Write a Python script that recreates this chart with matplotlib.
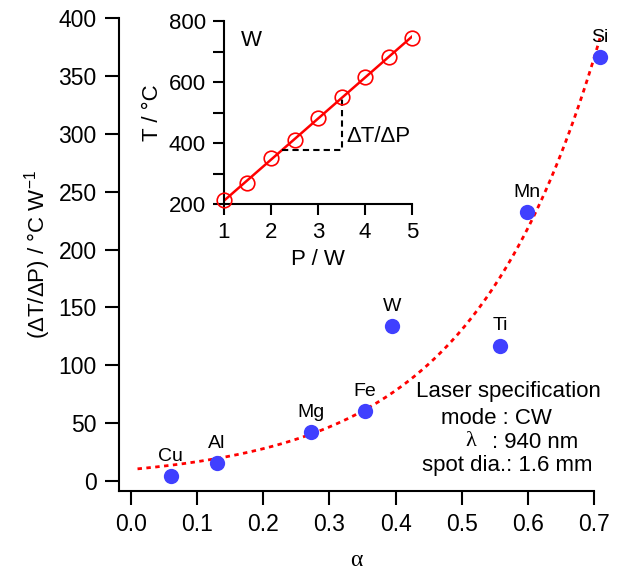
import matplotlib.pyplot as plt
import numpy as np

plt.rcParams['font.family'] = ['Liberation Sans', 'DejaVu Sans']
plt.rcParams['mathtext.fontset'] = 'custom'
plt.rcParams['mathtext.rm'] = 'Liberation Sans'
plt.rcParams['mathtext.it'] = 'Liberation Sans:italic'

# main data
elements = ['Cu', 'Al', 'Mg', 'Fe', 'W', 'Ti', 'Mn', 'Si']
alpha = [0.06, 0.13, 0.272, 0.354, 0.395, 0.558, 0.599, 0.709]
slope = [4.3, 15.5, 42, 60.5, 134, 117, 232, 366]
# exponential fit y = a*exp(b*x)
fit_a = 10.0
fit_b = 5.14

# inset data
P = [1, 1.5, 2, 2.5, 3, 3.5, 4, 4.5, 5]
T = [213, 269, 351, 410, 482, 551, 617, 682, 744]

W, H = 629, 571
fig = plt.figure(figsize=(W/100, H/100), dpi=100)

def fx(px): return px / W
def fy(py): return 1 - py / H

ax = fig.add_axes([fx(119), fy(491), fx(594) - fx(119), fy(18) - fy(491)])
ax.spines['top'].set_visible(False)
ax.spines['right'].set_visible(False)
ax.set_xlim(-0.018, 0.7)
ax.set_ylim(-8.6, 400)
ax.set_xticks(np.arange(0, 0.71, 0.1))
ax.set_xticklabels(['%.1f' % v for v in np.arange(0, 0.71, 0.1)])
ax.set_yticks(np.arange(0, 401, 50))
ax.tick_params(direction='out', length=10, width=1.5, labelsize=16.5, pad=6)
for s in ax.spines.values():
    s.set_linewidth(1.5)

xf = np.linspace(0.01, 0.709, 200)
ax.plot(xf, fit_a * np.exp(fit_b * xf), color='#ff0000', ls=(0, (1.6, 1.6)), lw=2, zorder=2,
        clip_on=False)
ax.plot(alpha, slope, 'o', color='#4040ff', ms=11, mec='none', zorder=3, clip_on=False)
for e, a, s in zip(elements, alpha, slope):
    ax.annotate(e, (a, s), xytext=(0, 8), textcoords='offset points',
                ha='center', va='bottom', fontsize=14, annotation_clip=False)

ax.set_xlabel('α', fontsize=17, labelpad=10, family='Liberation Serif')
ax.set_ylabel('(ΔT/ΔP) / °C W$^{-1}$', fontsize=16, labelpad=4)

# laser spec text
fs = 16
fig.text(fx(416), fy(392), 'Laser specification', fontsize=fs, va='center', ha='left')
fig.text(fx(441), fy(419), 'mode : CW', fontsize=fs, va='center', ha='left')
fig.text(fx(465), fy(442), 'λ', fontsize=fs, va='center', ha='left', family='Liberation Serif')
fig.text(fx(492), fy(442), ': 940 nm', fontsize=fs, va='center', ha='left')
fig.text(fx(422), fy(466), 'spot dia.: 1.6 mm', fontsize=fs, va='center', ha='left')

# inset
ins = fig.add_axes([fx(224), fy(204), fx(412) - fx(224), fy(21) - fy(204)])
ins.spines['top'].set_visible(False)
ins.spines['right'].set_visible(False)
ins.set_xlim(1, 5)
ins.set_ylim(200, 800)
ins.set_xticks([1, 2, 3, 4, 5])
ins.set_yticks([200, 400, 600, 800])
ins.set_yticks([300, 500, 700], minor=True)
ins.tick_params(which='both', direction='out', length=8, width=1.5, labelsize=16, pad=5)
for s in ins.spines.values():
    s.set_linewidth(1.5)

k, b = np.polyfit(P, T, 1)
pl = np.array([1, 5])
ins.plot(pl, k * pl + b, color='#ff0000', lw=1.8, zorder=2)
ins.plot(P, T, 'o', mfc='none', mec='#ff0000', ms=10.5, mew=1.2, zorder=3, clip_on=False)
ins.plot([2.24, 3.52, 3.52], [377, 377, k * 3.52 + b], color='black', ls=(0, (3, 2)), lw=1.5)
ins.text(3.6, 420, 'ΔT/ΔP', fontsize=16, va='center', ha='left')
ins.text(1.35, 735, 'W', fontsize=16, va='center', ha='left')
ins.set_xlabel('P / W', fontsize=16, labelpad=4)
ins.set_ylabel('T / °C', fontsize=16, labelpad=4)

fig.savefig('out.png', dpi=100)
